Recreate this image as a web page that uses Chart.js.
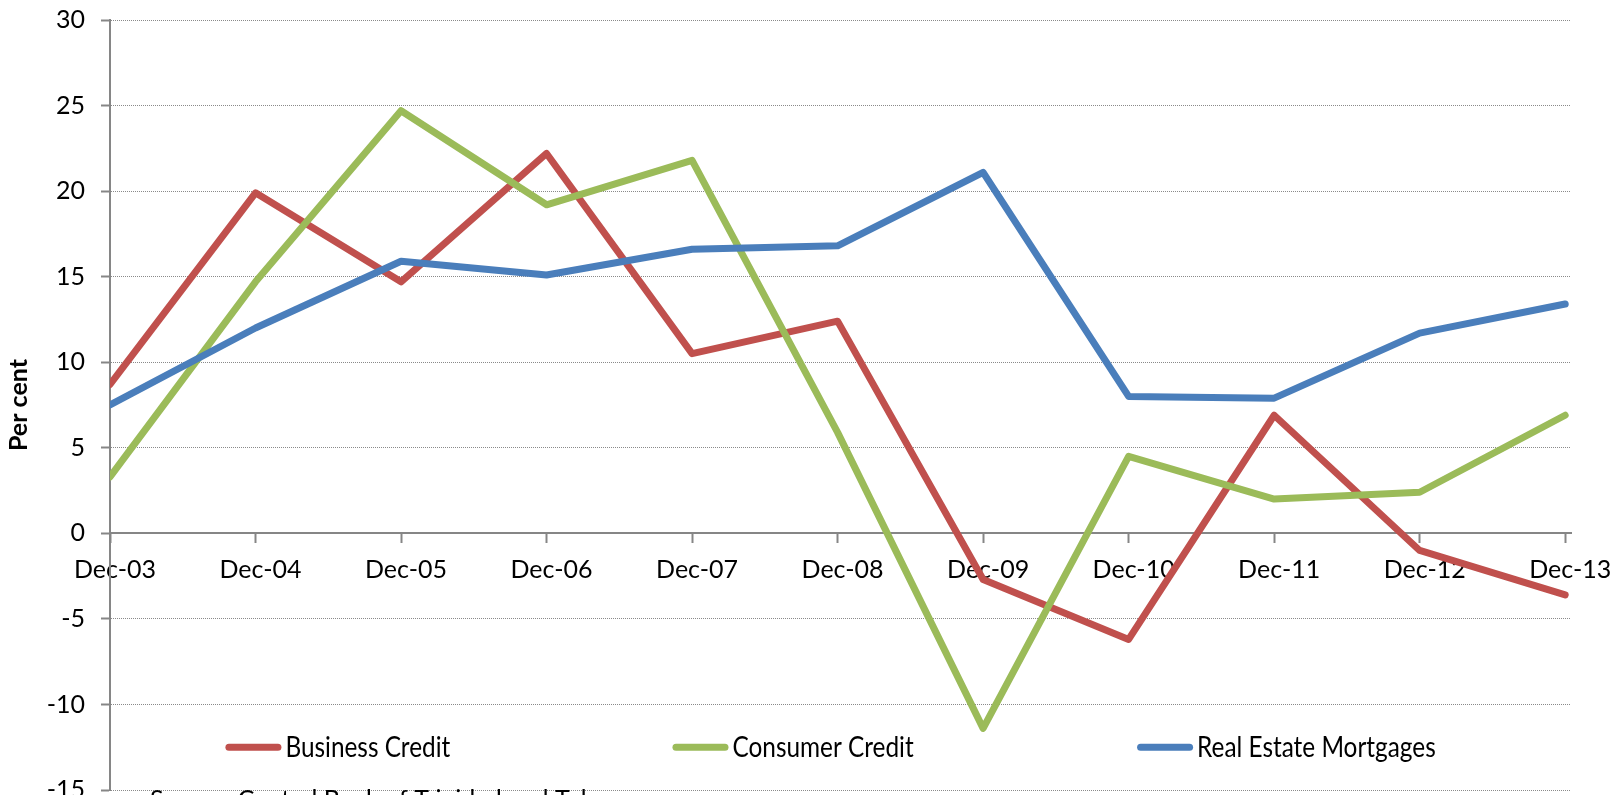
<!DOCTYPE html>
<html>
<head>
<meta charset="utf-8">
<title>Credit growth</title>
<script src="https://cdn.jsdelivr.net/npm/chart.js@4.4.1/dist/chart.umd.min.js"></script>
<style>
  html, body { margin:0; padding:0; background:#fff; overflow:hidden; }
  #wrap { width:1623px; height:795px; overflow:hidden; }
  canvas { display:block; }
</style>
</head>
<body>
<div id="wrap"><canvas id="credit" width="1623" height="840"></canvas></div>
<script>
// ===== Data (annual growth, per cent) =====
const CATEGORIES = ['Dec-03','Dec-04','Dec-05','Dec-06','Dec-07','Dec-08','Dec-09','Dec-10','Dec-11','Dec-12','Dec-13'];
const BUSINESS   = [8.7, 19.9, 14.7, 22.2, 10.5, 12.4, -2.7, -6.2, 6.9, -1.0, -3.6];
const CONSUMER   = [3.3, 14.7, 24.7, 19.2, 21.8, 5.9, -11.4, 4.5, 2.0, 2.4, 6.9];
const MORTGAGES  = [7.5, 12.0, 15.9, 15.1, 16.6, 16.8, 21.1, 8.0, 7.9, 11.7, 13.4];
const Y_TICKS    = [-15, -10, -5, 0, 5, 10, 15, 20, 25, 30];
const SOURCE_NOTE = 'Source: Central Bank of Trinidad and Tobago';

const FONT = 'Lato, "Open Sans", sans-serif';
const AXIS_GREY = '#868686';

// slot = where each legend entry starts, as a share of the plot width
const SERIES = [
  { label:'Business Credit',       data:BUSINESS,  color:'#C0504D', order:3, slot:0.079 },
  { label:'Consumer Credit',       data:CONSUMER,  color:'#9BBB59', order:2, slot:0.385 },
  { label:'Real Estate Mortgages', data:MORTGAGES, color:'#4A7EBB', order:1, slot:0.703 },
];

const toPoints = arr => arr.map((y, x) => ({ x, y }));

// Legend row inside the plot (between -10 and -15) plus the source line under it
const plotNotes = {
  id:'plotNotes',
  afterDraw(chart){
    const { ctx, chartArea, scales:{ y } } = chart;
    const w = chartArea.right - chartArea.left;
    const swatch = 56, cap = 3.5, textGap = 4;
    const ly = y.getPixelForValue(-12.5);
    ctx.save();
    ctx.font = '28px ' + FONT;
    ctx.textBaseline = 'middle';
    SERIES.forEach(s => {
      const x = chartArea.left + w * s.slot;
      ctx.strokeStyle = s.color;
      ctx.lineWidth = 7;
      ctx.lineCap = 'round';
      ctx.beginPath();
      ctx.moveTo(x + cap, ly);
      ctx.lineTo(x + swatch - cap, ly);
      ctx.stroke();
      // narrow face for the legend labels
      ctx.save();
      ctx.translate(x + swatch + textGap, ly);
      ctx.scale(0.87, 1);
      ctx.fillStyle = '#000';
      ctx.fillText(s.label, 0, 1);
      ctx.restore();
    });

    ctx.font = '25px ' + FONT;
    ctx.fillStyle = '#000';
    ctx.textBaseline = 'alphabetic';
    ctx.fillText(SOURCE_NOTE, chartArea.left + 40, chartArea.bottom + 18);
    ctx.restore();
  }
};

new Chart(document.getElementById('credit'), {
  type:'line',
  data:{
    datasets: SERIES.map(s => ({
      label:s.label,
      data:toPoints(s.data),
      borderColor:s.color,
      backgroundColor:s.color,
      borderWidth:7,
      borderCapStyle:'round',
      borderJoinStyle:'round',
      pointRadius:0,
      tension:0,
      order:s.order,
    }))
  },
  options:{
    responsive:false,
    animation:false,
    devicePixelRatio:1,
    layout:{ padding:{ top:20, right:52, bottom:50, left:0 } },
    plugins:{ legend:{ display:false }, tooltip:{ enabled:false } },
    scales:{
      x:{
        type:'linear',
        position:{ y:0 },
        min:0,
        max:CATEGORIES.length - 1 + 0.04,
        afterBuildTicks:(scale) => { scale.ticks = CATEGORIES.map((_, i) => ({ value:i })); },
        afterFit:(scale) => { scale.height = 0; },
        grid:{ drawOnChartArea:false, drawTicks:true, tickLength:9, tickColor:AXIS_GREY, tickWidth:2 },
        border:{ display:true, color:AXIS_GREY, width:2 },
        ticks:{
          autoSkip:false, maxRotation:0, padding:13, labelOffset:5,
          color:'#000', font:{ family:FONT, size:25 },
          callback:(v) => CATEGORIES[v] ?? ''
        }
      },
      y:{
        min:Y_TICKS[0],
        max:Y_TICKS[Y_TICKS.length - 1],
        afterBuildTicks:(scale) => { scale.ticks = Y_TICKS.map(v => ({ value:v })); },
        afterFit:(scale) => { scale.width = 110; scale.paddingTop = 0; scale.paddingBottom = 0; },
        grid:{ color:'#8a8a8a', lineWidth:1, drawTicks:true, tickLength:9, tickColor:AXIS_GREY, tickWidth:2 },
        border:{ display:true, color:AXIS_GREY, width:2, dash:[1,1] },
        ticks:{ padding:16, color:'#000', font:{ family:FONT, size:25 } },
        title:{
          display:true, text:'Per cent', color:'#000',
          font:{ family:FONT, size:25, weight:'bold' },
          padding:{ top:4, bottom:0 }
        }
      }
    }
  },
  plugins:[plotNotes]
});
</script>
</body>
</html>
